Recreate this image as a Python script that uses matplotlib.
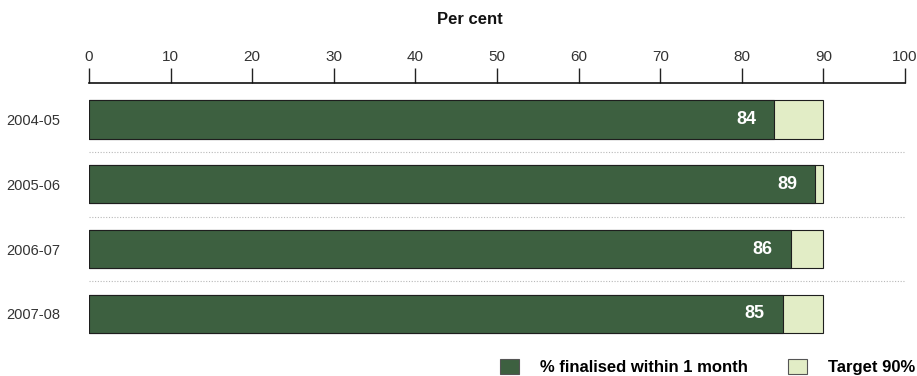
import matplotlib.pyplot as plt
from matplotlib.patches import Patch

years = ['2004-05', '2005-06', '2006-07', '2007-08']
finalised = [84, 89, 86, 85]
target = 90
ticks = [0, 10, 20, 30, 40, 50, 60, 70, 80, 90, 100]

dark = '#3d6040'
light = '#e2edc6'
edge = '#1e1e1e'

plt.rcParams['font.family'] = ['Liberation Sans', 'DejaVu Sans']

fig = plt.figure(figsize=(9.17, 3.76), dpi=100)
W, H = 917, 376
# axes box in pixels: x 89..905, y 83..343 (from top)
ax = fig.add_axes([89 / W, 1 - 343 / H, (905 - 89) / W, (343 - 83) / H])

ypos = list(range(len(years)))
bar_h = 0.59

# light bar up to the target, dark bar for the actual result on top
ax.barh(ypos, [target] * len(years), height=bar_h, color=light,
        edgecolor=edge, linewidth=0.8, zorder=2)
ax.barh(ypos, finalised, height=bar_h, color=dark,
        edgecolor=edge, linewidth=0.8, zorder=3)

for y, v in zip(ypos, finalised):
    ax.annotate(str(v), xy=(v, y), xytext=(-13, 0), textcoords='offset points',
                ha='right', va='center', color='white', fontsize=13,
                fontweight='bold', zorder=4)

# dotted separators between the rows
for y in ypos[:-1]:
    ax.axhline(y + 0.5, xmin=0, xmax=1, color='#b8b8b8', linestyle=(0, (1, 1.5)),
               linewidth=0.8, zorder=1)

ax.set_xlim(0, 100)
ax.set_ylim(3.45, -0.5625)
ax.xaxis.tick_top()
ax.set_xticks(ticks)
ax.set_xticklabels([str(t) for t in ticks])
ax.tick_params(axis='x', length=11, width=1, pad=3, labelsize=11,
               colors='#222222', labelcolor='#333333')
ax.set_yticks(ypos)
ax.set_yticklabels(years)
ax.tick_params(axis='y', length=0, pad=21, labelsize=10.5, labelcolor='#333333')

for s in ['left', 'right', 'bottom']:
    ax.spines[s].set_visible(False)
ax.spines['top'].set_linewidth(1.2)
ax.spines['top'].set_color('#111111')

fig.text(470 / W, 1 - 19 / H, 'Per cent', ha='center', va='center',
         fontsize=12, fontweight='bold', color='#111111')

handles = [Patch(facecolor=dark, edgecolor='#555555', linewidth=0.8),
           Patch(facecolor=light, edgecolor='#555555', linewidth=0.8)]
fig.legend(handles, ['% finalised within 1 month', 'Target 90%'],
           loc='center right', bbox_to_anchor=(1.0, 1 - 367 / H), ncol=2,
           frameon=False, handlelength=1.15, handleheight=1.0,
           handletextpad=1.25, columnspacing=2.4, borderaxespad=0.0,
           borderpad=0.1, prop={'size': 12, 'weight': 'bold'})

fig.savefig('out.png', dpi=100)
